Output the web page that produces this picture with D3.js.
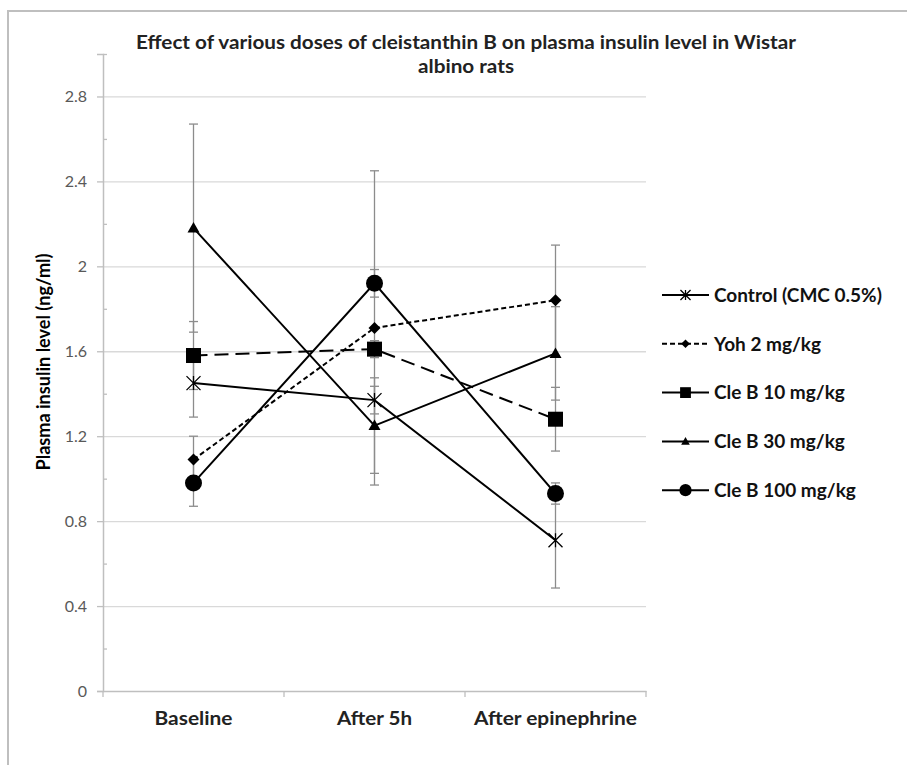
<!DOCTYPE html>
<html>
<head>
<meta charset="utf-8">
<script src="https://cdn.jsdelivr.net/npm/d3@7"></script>
<style>
  html, body { margin: 0; padding: 0; background: #fff; }
  svg { display: block; }
  text { font-family: "Lato", "Open Sans", sans-serif; }
</style>
</head>
<body>
<svg id="chart" width="907" height="765"></svg>
<script>
// ---------------- data ----------------
const categories = ["Baseline", "After 5h", "After epinephrine"];
const seriesNames = ["Control (CMC 0.5%)", "Yoh 2 mg/kg", "Cle B 10 mg/kg", "Cle B 30 mg/kg", "Cle B 100 mg/kg"];
const controlValues = [1.45, 1.37, 0.71];
const controlErrors = [0.16, 0.065, 0.225];
const yohValues = [1.09, 1.71, 1.84];
const yohErrors = [0.11, 0.74, 0.26];
const cle10Values = [1.58, 1.61, 1.28];
const cle10Errors = [0.16, 0.04, 0.15];
const cle30Values = [2.18, 1.25, 1.59];
const cle30Errors = [0.49, 0.225, 0.22];
const cle100Values = [0.98, 1.92, 0.93];
const cle100Errors = [0.11, 0.065, 0.05];
const yTickValues = [0, 0.4, 0.8, 1.2, 1.6, 2.0, 2.4, 2.8];
const yMinorTickValues = [0.2, 0.6, 1.0, 1.4, 1.8, 2.2, 2.6, 3.0];
const yMax = 3.0;
const titleLines = ["Effect of various doses of cleistanthin B on plasma insulin level in Wistar", "albino rats"];
const yAxisTitle = "Plasma insulin level (ng/ml)";

// ---------------- styles (not data) ----------------
const seriesStyle = [
  { marker: "star",     dash: null,   legendDash: null },
  { marker: "diamond",  dash: "5,3",  legendDash: "5,3" },
  { marker: "square",   dash: "14,7", legendDash: null },
  { marker: "triangle", dash: null,   legendDash: null },
  { marker: "circle",   dash: null,   legendDash: null }
];
const allValues = [controlValues, yohValues, cle10Values, cle30Values, cle100Values];
const allErrors = [controlErrors, yohErrors, cle10Errors, cle30Errors, cle100Errors];
const series = seriesNames.map((name, i) => ({
  name, values: allValues[i], errors: allErrors[i], style: seriesStyle[i]
}));

// ---------------- layout ----------------
const svg = d3.select("#chart");
const plotLeft = 103, plotRight = 646, plotTop = 54, plotBottom = 691;

svg.append("rect").attr("width", 907).attr("height", 765).attr("fill", "#fff");
// outer frame (top and left edges visible)
svg.append("path").attr("d", "M8,765 L8,11 L907,11")
  .attr("fill", "none").attr("stroke", "#bfbfbf").attr("stroke-width", 2);

const x = d3.scaleBand().domain(categories).range([plotLeft, plotRight]).padding(0);
const y = d3.scaleLinear().domain([0, yMax]).range([plotBottom, plotTop]);
const cx = d => x(d) + x.bandwidth() / 2;

// gridlines
svg.append("g")
  .attr("transform", `translate(${plotLeft},0)`)
  .call(d3.axisLeft(y).tickValues(yTickValues.filter(v => v > 0)).tickSize(-(plotRight - plotLeft)).tickFormat(""))
  .call(g => g.select(".domain").remove())
  .call(g => g.selectAll("line").attr("stroke", "#d9d9d9").attr("stroke-width", 1.3));

// y axis
const yAxis = svg.append("g")
  .attr("transform", `translate(${plotLeft},0)`)
  .call(d3.axisLeft(y).tickValues(yTickValues).tickSize(6).tickPadding(10)
        .tickFormat(d => String(+d.toFixed(1))));
yAxis.select(".domain").attr("stroke", "#bfbfbf").attr("stroke-width", 1.5);
yAxis.selectAll("line").attr("stroke", "#bfbfbf").attr("stroke-width", 1.3);
yAxis.selectAll("text").attr("fill", "#595959").style("font-size", "16px");

// minor ticks (inside)
svg.append("g")
  .attr("transform", `translate(${plotLeft},0)`)
  .call(d3.axisRight(y).tickValues(yMinorTickValues).tickSize(4).tickFormat(""))
  .call(g => g.select(".domain").remove())
  .call(g => g.selectAll("line").attr("stroke", "#bfbfbf").attr("stroke-width", 1.3));

// x axis
const catWidths = { "Baseline": 78, "After 5h": 75, "After epinephrine": 163 };
const xAxis = svg.append("g")
  .attr("transform", `translate(0,${plotBottom})`)
  .call(d3.axisBottom(x).tickSize(0).tickPadding(21));
xAxis.select(".domain").attr("stroke", "#bfbfbf").attr("stroke-width", 1.5);
xAxis.selectAll("text").attr("fill", "#222").style("font-size", "19px").style("font-weight", "bold")
  .attr("textLength", d => catWidths[d]).attr("lengthAdjust", "spacingAndGlyphs");
// category boundary ticks
const boundaries = categories.map(c => x(c)).concat([x(categories[categories.length - 1]) + x.bandwidth()]);
xAxis.selectAll("line.bound").data(boundaries).enter().append("line")
  .attr("class", "bound")
  .attr("x1", d => d).attr("x2", d => d).attr("y1", 0).attr("y2", 6)
  .attr("stroke", "#bfbfbf").attr("stroke-width", 1.3);

// error bars
const errG = svg.append("g");
series.forEach(s => {
  s.values.forEach((v, i) => {
    const xc = cx(categories[i]);
    const e = s.errors[i];
    errG.append("line").attr("x1", xc).attr("x2", xc).attr("y1", y(v - e)).attr("y2", y(v + e))
      .attr("stroke", "#8c8c8c").attr("stroke-width", 1.3);
    [v - e, v + e].forEach(t => {
      errG.append("line").attr("x1", xc - 4.5).attr("x2", xc + 4.5).attr("y1", y(t)).attr("y2", y(t))
        .attr("stroke", "#8c8c8c").attr("stroke-width", 1.3);
    });
  });
});

// lines
const line = d3.line().x((d, i) => cx(categories[i])).y(d => y(d));
series.forEach(s => {
  svg.append("path").datum(s.values).attr("d", line)
    .attr("fill", "none").attr("stroke", "#000").attr("stroke-width", 2)
    .attr("stroke-dasharray", s.style.dash);
});

// markers
function drawMarker(g, type, px, py, k) {
  if (type === "star") {
    const r = 7 * k;
    g.append("path")
      .attr("d", `M${px - r},${py - r}L${px + r},${py + r}M${px - r},${py + r}L${px + r},${py - r}M${px},${py - r}L${px},${py + r}`)
      .attr("stroke", "#000").attr("stroke-width", 1.3).attr("fill", "none");
  } else if (type === "diamond") {
    const r = 6 * k;
    g.append("path").attr("d", `M${px},${py - r}L${px + r},${py}L${px},${py + r}L${px - r},${py}Z`).attr("fill", "#000");
  } else if (type === "square") {
    const r = 7.5 * k;
    g.append("rect").attr("x", px - r).attr("y", py - r).attr("width", 2 * r).attr("height", 2 * r).attr("fill", "#000");
  } else if (type === "triangle") {
    const r = 6 * k;
    g.append("path").attr("d", `M${px},${py - r}L${px + r},${py + r * 0.75}L${px - r},${py + r * 0.75}Z`).attr("fill", "#000");
  } else if (type === "circle") {
    g.append("circle").attr("cx", px).attr("cy", py).attr("r", 8.5 * k).attr("fill", "#000");
  }
}
const markG = svg.append("g");
series.forEach(s => {
  s.values.forEach((v, i) => drawMarker(markG, s.style.marker, cx(categories[i]), y(v), 1));
});

// title
const titleWidths = [660, 96];
svg.append("g").selectAll("text").data(titleLines).enter().append("text")
  .attr("x", 466).attr("y", (d, i) => 49 + i * 24)
  .attr("text-anchor", "middle").attr("fill", "#222")
  .style("font-size", "18px").style("font-weight", "bold")
  .attr("textLength", (d, i) => titleWidths[i]).attr("lengthAdjust", "spacingAndGlyphs")
  .text(d => d);

// y axis title
svg.append("text")
  .attr("transform", `translate(50,362) rotate(-90)`)
  .attr("text-anchor", "middle").attr("fill", "#000")
  .style("font-size", "18px").style("font-weight", "bold")
  .attr("textLength", 217).attr("lengthAdjust", "spacingAndGlyphs")
  .text(yAxisTitle);

// legend
const legend = svg.append("g");
const legY0 = 295, legStep = 48.8;
series.forEach((s, i) => {
  const ly = legY0 + i * legStep;
  legend.append("line").attr("x1", 662).attr("x2", 709).attr("y1", ly).attr("y2", ly)
    .attr("stroke", "#000").attr("stroke-width", 2).attr("stroke-dasharray", s.style.legendDash);
  drawMarker(legend, s.style.marker, 685.5, ly, 0.72);
  legend.append("text").attr("x", 714).attr("y", ly).attr("dy", "0.36em")
    .attr("fill", "#111").style("font-size", "19px").style("font-weight", "bold")
    .text(s.name);
});
</script>
</body>
</html>
